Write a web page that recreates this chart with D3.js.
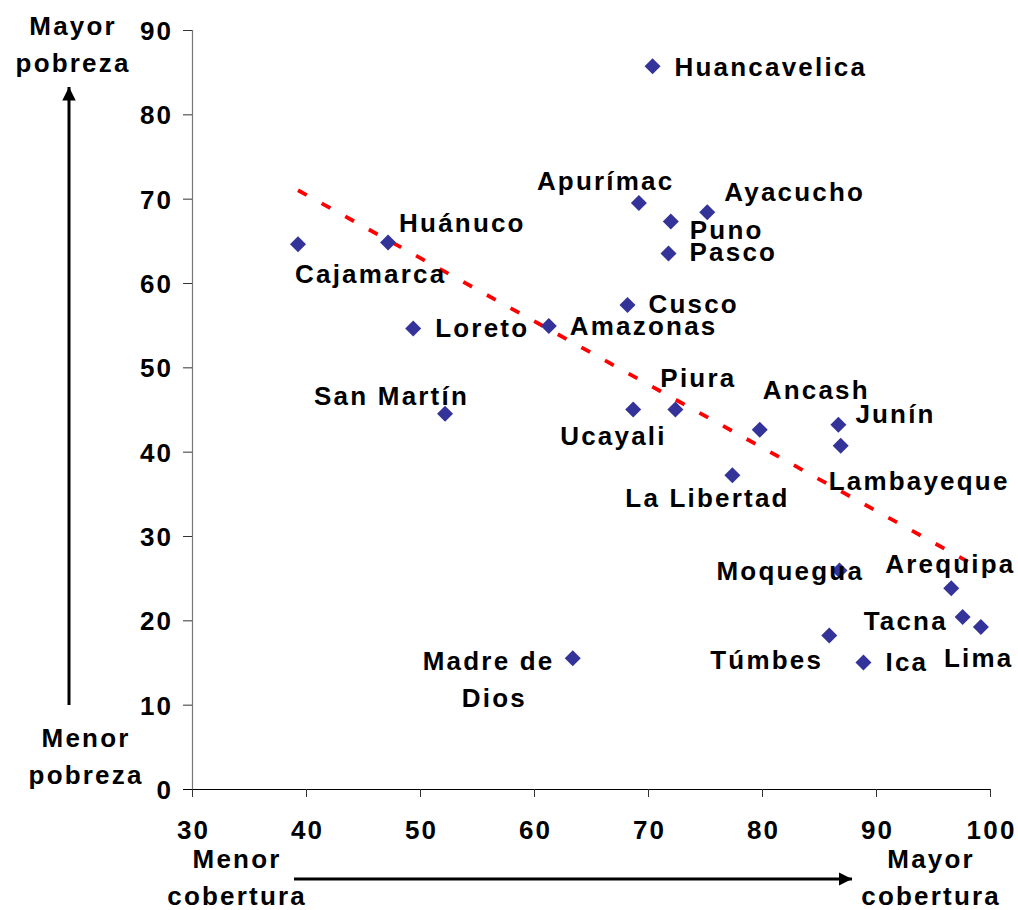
<!DOCTYPE html>
<html>
<head>
<meta charset="utf-8">
<script src="https://cdn.jsdelivr.net/npm/d3@7"></script>
<style>
  html, body { margin: 0; padding: 0; background: #fff; }
  svg { display: block; }
  text { font-family: "Liberation Sans", Arial, sans-serif; font-weight: bold; fill: #000; }
</style>
</head>
<body>
<svg id="chart" width="1018" height="910"></svg>
<script>
// ---- data ----
const regions = ["Huancavelica","Apurímac","Ayacucho","Puno","Pasco","Huánuco","Cajamarca","Cusco","Loreto","Amazonas","San Martín","Ucayali","Piura","Ancash","Junín","Lambayeque","La Libertad","Moquegua","Arequipa","Tacna","Túmbes","Ica","Lima","Madre de Dios"];
const coverage = [70.4, 69.2, 75.2, 72.0, 71.8, 47.2, 39.3, 68.2, 49.4, 61.3, 52.2, 68.7, 72.4, 79.8, 86.7, 86.9, 77.4, 86.8, 96.6, 97.6, 85.9, 88.9, 99.2, 63.4];
const poverty  = [85.7, 69.5, 68.4, 67.3, 63.5, 64.8, 64.6, 57.4, 54.6, 54.9, 44.5, 45.0, 45.0, 42.6, 43.2, 40.7, 37.2, 25.9, 23.8, 20.4, 18.2, 15.0, 19.2, 15.5];
const trendX = [39.3, 99.2];
const trendY = [71.0, 26.1];
const xTicks = [30, 40, 50, 60, 70, 80, 90, 100];
const yTicks = [0, 10, 20, 30, 40, 50, 60, 70, 80, 90];

// ---- label placement (pixel offsets from the marker, layout only) ----
const labelOffsets = {
  "Huancavelica": [[22, 10]],
  "Apurímac": [[-102, -13]],
  "Ayacucho": [[17, -11]],
  "Puno": [[19, 18]],
  "Pasco": [[21, 8]],
  "Huánuco": [[11, -11]],
  "Cajamarca": [[-3, 39]],
  "Cusco": [[21, 8]],
  "Loreto": [[22, 8]],
  "Amazonas": [[21, 9]],
  "San Martín": [[-131, -9]],
  "Ucayali": [[-73, 35]],
  "Piura": [[-15, -23]],
  "Ancash": [[3, -31]],
  "Junín": [[17, -2]],
  "Lambayeque": [[-12, 44]],
  "La Libertad": [[-107, 32]],
  "Moquegua": [[-123, 9]],
  "Arequipa": [[-66, -15]],
  "Tacna": [[-99, 13]],
  "Túmbes": [[-119, 33]],
  "Ica": [[22, 8]],
  "Lima": [[-37, 40]],
  "Madre de Dios": [[-150, 12, "Madre de"], [-111, 49, "Dios"]]
};

const svg = d3.select("#chart");
const x = d3.scaleLinear().domain([30, 100]).range([192, 990]);
const y = d3.scaleLinear().domain([0, 90]).range([789, 30]);

const FS = 26;
const LS = "2.2px";

// y axis
const yAxis = svg.append("g").attr("transform", `translate(${x(30)},0)`)
  .call(d3.axisLeft(y).tickValues(yTicks).tickSize(9).tickPadding(12).tickFormat(d3.format("d")));
yAxis.select(".domain").attr("stroke", "#777").attr("stroke-width", 1.2);
yAxis.selectAll(".tick line").attr("stroke", "#333");
yAxis.selectAll(".tick text").attr("font-size", FS).attr("letter-spacing", LS)
  .attr("dx", "2.2px").attr("dy", "0.36em")
  .style("font-family", "'Liberation Sans', Arial, sans-serif").style("font-weight", "bold").attr("fill", "#000");

// x axis
const xAxis = svg.append("g").attr("transform", `translate(0,${y(0)})`)
  .call(d3.axisBottom(x).tickValues(xTicks).tickSize(8).tickPadding(24).tickFormat(d3.format("d")));
xAxis.select(".domain").attr("stroke", "#000").attr("stroke-width", 1.2)
  .attr("d", `M${x(30) - 9},0.5H${x(100)}`);
xAxis.selectAll(".tick line").attr("stroke", "#333");
xAxis.selectAll(".tick text").attr("font-size", FS).attr("letter-spacing", LS)
  .attr("dx", "1.1px")
  .style("font-family", "'Liberation Sans', Arial, sans-serif").style("font-weight", "bold").attr("fill", "#000");

// trend line
svg.append("line")
  .attr("x1", x(trendX[0])).attr("y1", y(trendY[0]))
  .attr("x2", x(trendX[1])).attr("y2", y(trendY[1]))
  .attr("stroke", "#ff0000").attr("stroke-width", 3.8)
  .attr("stroke-dasharray", "10,17");

// markers
const pts = regions.map((r, i) => ({ name: r, cx: coverage[i], py: poverty[i] }));
const h = 8;
svg.append("g").selectAll("path").data(pts).join("path")
  .attr("d", d => {
    const px = x(d.cx), py = y(d.py);
    return `M${px},${py - h}L${px + h},${py}L${px},${py + h}L${px - h},${py}Z`;
  })
  .attr("fill", "#333399");

// labels
const lg = svg.append("g");
pts.forEach(d => {
  const px = x(d.cx), py = y(d.py);
  (labelOffsets[d.name] || [[10, 0]]).forEach(o => {
    lg.append("text")
      .attr("x", px + o[0]).attr("y", py + o[1])
      .attr("font-size", FS).attr("letter-spacing", LS)
      .text(o[2] || d.name);
  });
});

// axis titles with arrows
function title(lines, cx) {
  lines.forEach(l => {
    svg.append("text").attr("x", cx + 1.1).attr("y", l[1])
      .attr("text-anchor", "middle").attr("font-size", FS).attr("letter-spacing", LS)
      .text(l[0]);
  });
}
title([["Mayor", 35], ["pobreza", 72]], 72);
title([["Menor", 747], ["pobreza", 784]], 85);
title([["Menor", 868], ["cobertura", 905]], 236);
title([["Mayor", 868], ["cobertura", 905]], 930);

const defs = svg.append("defs");
defs.append("marker").attr("id", "arrow").attr("viewBox", "0 0 10 10")
  .attr("refX", 10).attr("refY", 5).attr("markerWidth", 4.5).attr("markerHeight", 4.5)
  .attr("markerUnits", "strokeWidth").attr("orient", "auto")
  .append("path").attr("d", "M0,0L10,5L0,10Z").attr("fill", "#000");

svg.append("line").attr("x1", 69).attr("y1", 705).attr("x2", 69).attr("y2", 87)
  .attr("stroke", "#000").attr("stroke-width", 3).attr("marker-end", "url(#arrow)");
svg.append("line").attr("x1", 294).attr("y1", 879).attr("x2", 852).attr("y2", 879)
  .attr("stroke", "#000").attr("stroke-width", 3).attr("marker-end", "url(#arrow)");
</script>
</body>
</html>
